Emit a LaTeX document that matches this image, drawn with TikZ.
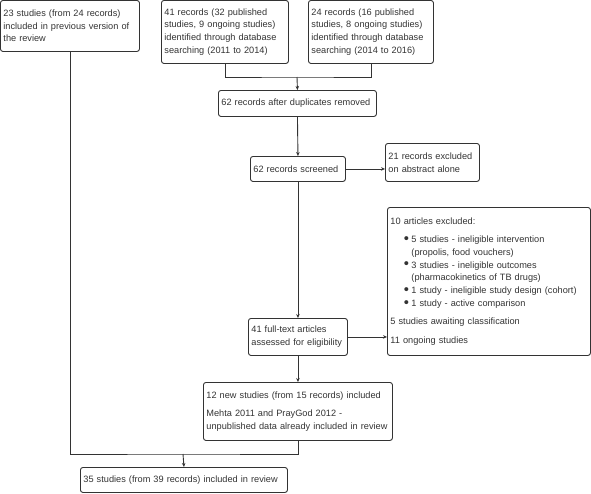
\documentclass[tikz,border=0pt]{standalone}
\usepackage{fontspec}
\setmainfont{Liberation Sans}
\usepackage{graphicx}
\usepackage{tikz}
\usetikzlibrary{arrows.meta}
\definecolor{ln}{HTML}{333333}
\newcommand{\blt}{\llap{\smash{\raisebox{-.8pt}{\scalebox{1.6}{\textbullet}}}\hspace{2.5pt}}}
\hyphenpenalty=10000
\exhyphenpenalty=10000

\begin{document}
\begin{tikzpicture}[x=1pt, y=-1pt,
		font=\fontsize{9.2}{12.7}\selectfont, text=ln,
		rec/.style={draw=ln, line width=.9pt, rounded corners=2.5pt, anchor=north west, align=left, inner xsep=3pt, inner ysep=0pt},
		arr/.style={draw=ln, line width=.9pt, -{Stealth[length=4pt, width=3.5pt]}},
		con/.style={draw=ln, line width=.9pt}]
				\useasboundingbox (0,0) rectangle (591,493);
				\node[rec, text width=133pt, minimum height=51pt] (prev) at (0,0) {23 studies (from 24 records)\\ included in previous version of\\ the review};
				\node[rec, text width=121pt, minimum height=63pt] (srch1) at (161,0) {41 records (32 published\\ studies, 9 ongoing studies)\\ identified through database\\ searching (2011 to 2014)};
				\node[rec, text width=119pt, minimum height=63pt] (srch2) at (308,0) {24 records (16 published\\ studies, 8 ongoing studies)\\ identified through database\\ searching (2014 to 2016)};
				\node[rec, text width=152pt, minimum height=26pt] (dupl) at (218,90) {62 records after duplicates removed};
				\node[rec, text width=89pt, minimum height=25pt] (scrn) at (250,156) {62 records screened};
				\node[rec, text width=88pt, minimum height=38pt] (absx) at (385,143) {21 records excluded\\ on abstract alone};
				\node[rec, text width=197pt, minimum height=148pt] (artx) at (387,207) {10 articles excluded:\\[6pt]
					\hspace*{21pt}\blt 5 studies - ineligible intervention\\
					\hspace*{21pt}(propolis, food vouchers)\\
					\hspace*{21pt}\blt 3 studies - ineligible outcomes\\
					\hspace*{21pt}(pharmacokinetics of TB drugs)\\
					\hspace*{21pt}\blt 1 study - ineligible study design (cohort)\\
					\hspace*{21pt}\blt 1 study - active comparison\\[6pt]
					5 studies awaiting classification\\[6pt]
					11 ongoing studies};
				\node[rec, text width=93pt, minimum height=37pt] (full) at (248,318) {41 full-text articles\\ assessed for eligibility};
				\node[rec, text width=183pt, minimum height=58pt] (incl) at (203,382) {12 new studies (from 15 records) included\\[6pt] Mehta 2011 and PrayGod 2012 -\\ unpublished data already included in review};
				\node[rec, text width=201pt, minimum height=25pt] (finl) at (80,467) {35 studies (from 39 records) included in review};
				% joins
				\coordinate (jn1) at (297,77);
				\coordinate (jn2) at (183,454);
				\draw[con] (srch1.south) |- (jn1) -| (srch2.south);
				\draw[arr] (jn1) -- (dupl.north);
				\draw[arr] (dupl.south) -- (scrn.north);
				\draw[arr] (scrn.east) -- (scrn.east -| absx.west);
				\draw[arr] (scrn.south) -- (full.north);
				\draw[arr] (full.east) -- (full.east -| artx.west);
				\draw[arr] (full.south) -- (incl.north);
				\draw[con] (prev.south) |- (jn2) -| (incl.south);
				\draw[arr] (jn2) -- (finl.north);
			\end{tikzpicture}
\end{document}
